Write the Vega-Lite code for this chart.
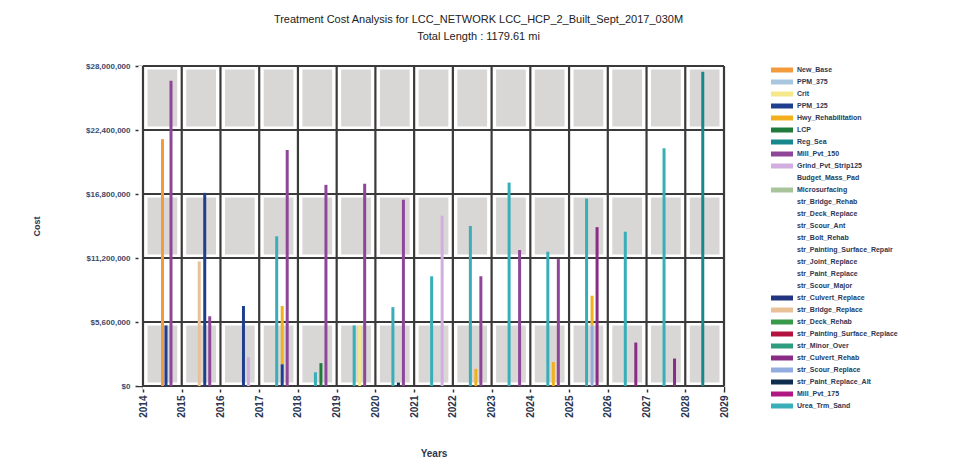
{
  "$schema": "https://vega.github.io/schema/vega-lite/v6.json",
  "width": 581,
  "height": 320,
  "autosize": {"type": "none"},
  "padding": {"left": 143, "top": 66, "right": 236, "bottom": 82},
  "background": "white",
  "title": {
    "text": ["Treatment Cost Analysis for LCC_NETWORK LCC_HCP_2_Built_Sept_2017_030M", "Total Length : 1179.61 mi"],
    "font": "Liberation Sans, sans-serif",
    "fontSize": 11,
    "fontWeight": "normal",
    "color": "#222222",
    "anchor": "middle",
    "dx": 45,
    "offset": 20,
    "lineHeight": 17
  },
  "datasets": {
    "bands": [
      {"lo": 0, "hi": 5600000},
      {"lo": 11200000, "hi": 16800000},
      {"lo": 22400000, "hi": 28000000}
    ],
    "years": [
      {"year": 2014}, {"year": 2015}, {"year": 2016}, {"year": 2017}, {"year": 2018}, {"year": 2019}, {"year": 2020}, {"year": 2021},
      {"year": 2022}, {"year": 2023}, {"year": 2024}, {"year": 2025}, {"year": 2026}, {"year": 2027}, {"year": 2028}, {"year": 2029}
    ],
    "ticks": [
      {"cost": 0}, {"cost": 5600000}, {"cost": 11200000}, {"cost": 16800000}, {"cost": 22400000}, {"cost": 28000000}
    ],
    "costs": [
      {"year": 2014, "series": "New_Base", "cost": 21600000},
      {"year": 2014, "series": "PPM_125", "cost": 5300000},
      {"year": 2014, "series": "Mill_Pvt_150", "cost": 26700000},
      {"year": 2015, "series": "str_Bridge_Replace", "cost": 10900000},
      {"year": 2015, "series": "PPM_125", "cost": 16900000},
      {"year": 2015, "series": "Mill_Pvt_150", "cost": 6100000},
      {"year": 2016, "series": "PPM_125", "cost": 7000000},
      {"year": 2016, "series": "Grind_Pvt_Strip125", "cost": 2500000},
      {"year": 2017, "series": "Urea_Trm_Sand", "cost": 13100000},
      {"year": 2017, "series": "Hwy_Rehabilitation", "cost": 5100000},
      {"year": 2017, "series": "PPM_125", "cost": 1900000},
      {"year": 2017, "series": "Mill_Pvt_150", "cost": 20650000},
      {"year": 2018, "series": "Urea_Trm_Sand", "cost": 1200000},
      {"year": 2018, "series": "LCP", "cost": 2000000},
      {"year": 2018, "series": "Mill_Pvt_150", "cost": 17600000},
      {"year": 2019, "series": "Urea_Trm_Sand", "cost": 5300000},
      {"year": 2019, "series": "Crit", "cost": 5300000},
      {"year": 2019, "series": "Mill_Pvt_150", "cost": 17700000},
      {"year": 2020, "series": "Urea_Trm_Sand", "cost": 6900000},
      {"year": 2020, "series": "str_Paint_Replace_Alt", "cost": 300000},
      {"year": 2020, "series": "Mill_Pvt_150", "cost": 16300000},
      {"year": 2021, "series": "Urea_Trm_Sand", "cost": 9600000},
      {"year": 2021, "series": "Grind_Pvt_Strip125", "cost": 14900000},
      {"year": 2022, "series": "Urea_Trm_Sand", "cost": 14000000},
      {"year": 2022, "series": "Hwy_Rehabilitation", "cost": 1500000},
      {"year": 2022, "series": "Mill_Pvt_150", "cost": 9600000},
      {"year": 2023, "series": "Urea_Trm_Sand", "cost": 17800000},
      {"year": 2023, "series": "Mill_Pvt_150", "cost": 11900000},
      {"year": 2024, "series": "Urea_Trm_Sand", "cost": 11750000},
      {"year": 2024, "series": "Hwy_Rehabilitation", "cost": 2100000},
      {"year": 2024, "series": "Mill_Pvt_150", "cost": 11100000},
      {"year": 2025, "series": "Urea_Trm_Sand", "cost": 16400000},
      {"year": 2025, "series": "str_Scour_Replace", "cost": 5300000},
      {"year": 2025, "series": "Hwy_Rehabilitation", "cost": 2600000},
      {"year": 2025, "series": "str_Culvert_Rehab", "cost": 13900000},
      {"year": 2026, "series": "Urea_Trm_Sand", "cost": 13500000},
      {"year": 2026, "series": "str_Culvert_Rehab", "cost": 3800000},
      {"year": 2027, "series": "Urea_Trm_Sand", "cost": 20800000},
      {"year": 2027, "series": "str_Culvert_Rehab", "cost": 2400000},
      {"year": 2028, "series": "Reg_Sea", "cost": 27500000}
    ]
  },
  "config": {
    "view": {"stroke": null},
    "axis": {"grid": false, "domain": false, "tickColor": "#333333", "tickWidth": 1.5},
    "axisX": {
      "labelAngle": -90, "labelFont": "Liberation Sans, sans-serif", "labelFontSize": 10, "labelFontWeight": "bold",
      "labelColor": "#2b3550", "tickSize": 6, "labelPadding": 3,
      "titleFont": "Liberation Sans, sans-serif", "titleFontSize": 10, "titleFontWeight": "bold", "titleColor": "#2b3550", "titlePadding": 31
    },
    "axisY": {
      "labelFont": "Liberation Sans, sans-serif", "labelFontSize": 8, "labelFontWeight": "bold",
      "labelColor": "#3b4a6b", "tickSize": 8, "labelPadding": 5,
      "titleFont": "Liberation Sans, sans-serif", "titleFontSize": 9, "titleFontWeight": "bold", "titleColor": "#2b3550", "titlePadding": 44
    }
  },
  "layer": [
    {
      "data": {"name": "bands"},
      "mark": {"type": "rect", "color": "#d9d6d6"},
      "encoding": {
        "y": {"field": "lo", "type": "quantitative", "scale": {"domain": [0, 28000000], "nice": false}, "axis": {"title": "Cost", "values": [0, 5600000, 11200000, 16800000, 22400000, 28000000], "format": "$,.0f"}},
        "y2": {"field": "hi"}
      }
    },
    {
      "data": {"name": "years"},
      "mark": {"type": "rule", "color": "white", "strokeWidth": 9},
      "encoding": {
        "x": {"field": "year", "type": "quantitative", "scale": {"domain": [2014, 2029], "nice": false, "zero": false, "padding": 0}, "axis": {"title": "Years", "values": [2014, 2015, 2016, 2017, 2018, 2019, 2020, 2021, 2022, 2023, 2024, 2025, 2026, 2027, 2028, 2029], "format": "d"}}
      }
    },
    {
      "data": {"name": "ticks"},
      "mark": {"type": "rule", "color": "white", "strokeWidth": 7},
      "encoding": {
        "y": {"field": "cost", "type": "quantitative", "scale": {"domain": [0, 28000000], "nice": false}, "axis": {"title": "Cost", "values": [0, 5600000, 11200000, 16800000, 22400000, 28000000], "format": "$,.0f"}}
      }
    },
    {
      "data": {"name": "years"},
      "mark": {"type": "rule", "color": "#3a3a3a", "strokeWidth": 2.2},
      "encoding": {
        "x": {"field": "year", "type": "quantitative", "scale": {"domain": [2014, 2029], "nice": false, "zero": false, "padding": 0}, "axis": {"title": "Years", "values": [2014, 2015, 2016, 2017, 2018, 2019, 2020, 2021, 2022, 2023, 2024, 2025, 2026, 2027, 2028, 2029], "format": "d"}}
      }
    },
    {
      "data": {"name": "ticks"},
      "mark": {"type": "rule", "color": "#3a3a3a", "strokeWidth": 2.2},
      "encoding": {
        "y": {"field": "cost", "type": "quantitative", "scale": {"domain": [0, 28000000], "nice": false}, "axis": {"title": "Cost", "values": [0, 5600000, 11200000, 16800000, 22400000, 28000000], "format": "$,.0f"}}
      }
    },
    {
      "data": {"name": "costs"},
      "layer": [
        {"transform": [{"filter": {"field": "series", "oneOf": ["Urea_Trm_Sand", "Reg_Sea", "str_Bridge_Replace"]}}],
         "mark": {"type": "bar", "orient": "vertical", "width": 3, "xOffset": 17.5}},
        {"transform": [{"filter": {"field": "series", "oneOf": ["New_Base"]}}],
         "mark": {"type": "bar", "orient": "vertical", "width": 3, "xOffset": 19.5}},
        {"transform": [{"filter": {"field": "series", "oneOf": ["PPM_125", "Hwy_Rehabilitation", "LCP", "Crit", "str_Paint_Replace_Alt", "str_Scour_Replace"]}}],
         "mark": {"type": "bar", "orient": "vertical", "width": 3, "xOffset": 23}},
        {"transform": [{"filter": {"field": "series", "oneOf": ["Mill_Pvt_150", "Grind_Pvt_Strip125", "str_Culvert_Rehab"]}}],
         "mark": {"type": "bar", "orient": "vertical", "width": 3, "xOffset": 28}}
      ],
      "encoding": {
        "x": {"field": "year", "type": "quantitative", "scale": {"domain": [2014, 2029], "nice": false, "zero": false, "padding": 0}, "axis": {"title": "Years", "values": [2014, 2015, 2016, 2017, 2018, 2019, 2020, 2021, 2022, 2023, 2024, 2025, 2026, 2027, 2028, 2029], "format": "d"}},
        "y": {"field": "cost", "type": "quantitative", "scale": {"domain": [0, 28000000], "nice": false}, "axis": {"title": "Cost", "values": [0, 5600000, 11200000, 16800000, 22400000, 28000000], "format": "$,.0f"}},
        "color": {
          "field": "series", "type": "nominal",
          "scale": {
            "domain": ["New_Base", "PPM_375", "Crit", "PPM_125", "Hwy_Rehabilitation", "LCP", "Reg_Sea", "Mill_Pvt_150", "Grind_Pvt_Strip125", "Budget_Mass_Pad", "Microsurfacing", "str_Bridge_Rehab", "str_Deck_Replace", "str_Scour_Ant", "str_Bolt_Rehab", "str_Painting_Surface_Repair", "str_Joint_Replace", "str_Paint_Replace", "str_Scour_Major", "str_Culvert_Replace", "str_Bridge_Replace", "str_Deck_Rehab", "str_Painting_Surface_Replace", "str_Minor_Over", "str_Culvert_Rehab", "str_Scour_Replace", "str_Paint_Replace_Alt", "Mill_Pvt_175", "Urea_Trm_Sand"],
            "range": ["#f39a3c", "#a9c6de", "#f5e88a", "#1f3f8e", "#f2b01e", "#1f7a3c", "#17898c", "#8e4798", "#d2aee0", "rgba(0,0,0,0)", "#a9c39a", "rgba(0,0,0,0)", "rgba(0,0,0,0)", "rgba(0,0,0,0)", "rgba(0,0,0,0)", "rgba(0,0,0,0)", "rgba(0,0,0,0)", "rgba(0,0,0,0)", "rgba(0,0,0,0)", "#22347f", "#e9c197", "#3a9a4c", "#b5123f", "#2e9c7e", "#8a2c86", "#92acdf", "#0f2d4c", "#b11783", "#38aeb8"]
          },
          "legend": {
            "orient": "none", "legendX": 634, "legendY": -1, "title": null, "padding": 0,
            "symbolType": "M-2.2,-0.5H2.2V0.5H-2.2Z", "symbolSize": 100, "symbolStrokeWidth": 0,
            "labelOffset": 10, "rowPadding": 4, "labelFont": "Liberation Sans, sans-serif", "labelFontSize": 7,
            "labelFontWeight": "bold", "labelColor": "#2c3856", "labelLimit": 200
          }
        }
      }
    }
  ]
}
